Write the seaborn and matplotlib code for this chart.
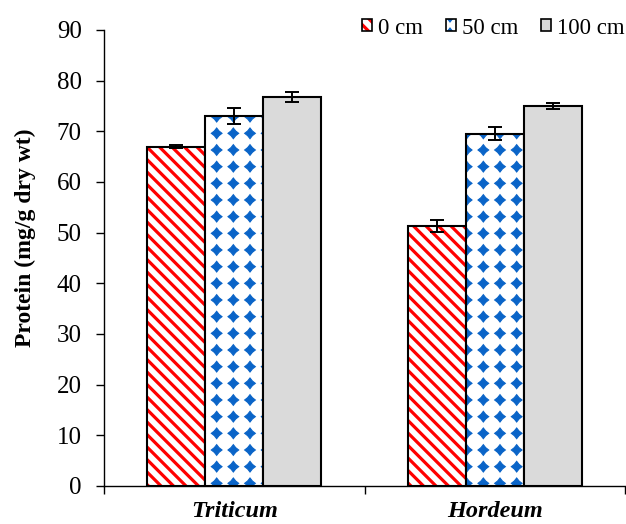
import numpy as np
import pandas as pd
import matplotlib
matplotlib.use("Agg")
import matplotlib.pyplot as plt
import matplotlib.hatch as mhatch
from matplotlib.path import Path
from matplotlib.patches import Patch
from matplotlib.colors import to_rgba
import seaborn as sns

# ---------------- data ----------------
species = ["Triticum", "Hordeum"]
depths = ["0 cm", "50 cm", "100 cm"]
protein_0cm = [67.0, 51.3]
protein_50cm = [73.0, 69.5]
protein_100cm = [76.7, 75.0]
err_0cm = [0.3, 1.2]
err_50cm = [1.6, 1.3]
err_100cm = [1.0, 0.5]
y_ticks = [0, 10, 20, 30, 40, 50, 60, 70, 80, 90]
y_label = "Protein (mg/g dry wt)"

# ---------------- custom hatch textures ----------------
class StripeHatch(mhatch.HatchPatternBase):
    per_tile = 8

    def __init__(self, hatch, density):
        self.n = hatch.count('\\') * self.per_tile
        self.num_vertices = (2 * self.n + 1) * 2 if self.n else 0

    def set_vertices_and_codes(self, vertices, codes):
        c = np.arange(2 * self.n + 1) / self.n
        vertices[0::2, 0] = c - 2.0
        vertices[0::2, 1] = 2.0
        vertices[1::2, 0] = c + 2.0
        vertices[1::2, 1] = -2.0
        codes[0::2] = Path.MOVETO
        codes[1::2] = Path.LINETO


class DiamondHatch(mhatch.HatchPatternBase):
    per_tile = 6
    size = 0.32

    def __init__(self, hatch, density):
        self.n = hatch.count('*') * self.per_tile
        self.num_vertices = (self.n + 1) ** 2 * 9 if self.n else 0

    def set_vertices_and_codes(self, vertices, codes):
        off = 1.0 / self.n
        r = self.size * off
        k = 0.44 * r
        shape = np.array([[0, r], [k, k], [r, 0], [k, -k], [0, -r],
                          [-k, -k], [-r, 0], [-k, k], [0, r]])
        scode = np.array([Path.MOVETO] + [Path.LINETO] * 7 + [Path.CLOSEPOLY],
                         dtype=Path.code_type)
        vparts, cparts = [], []
        for i in range(self.n + 1):
            for j in range(self.n + 1):
                vparts.append(shape + [j * off, i * off])
                cparts.append(scode)
        np.concatenate(vparts, out=vertices)
        np.concatenate(cparts, out=codes)


_drop = {"NorthWestHatch", "SouthEastHatch", "Stars"}
mhatch._hatch_types[:] = [t for t in mhatch._hatch_types
                          if t.__name__ not in _drop] + [StripeHatch, DiamondHatch]

# ---------------- styling ----------------
sns.set_theme(style="white")
plt.rcParams['font.family'] = ['Liberation Serif', 'DejaVu Serif']
plt.rcParams['hatch.linewidth'] = 2.3

face_colors = {"0 cm": "white", "50 cm": "white", "100 cm": "#dadada"}
hatches = {"0 cm": "\\", "50 cm": "*", "100 cm": ""}
hatch_colors = {"0 cm": "#ff0000", "50 cm": "#0a64c8", "100 cm": "black"}
hatch_lw = {"0 cm": 2.3, "50 cm": 0.8, "100 cm": 1.0}

df = pd.DataFrame({
    "species": species * 3,
    "depth": [d for d in depths for _ in species],
    "protein": protein_0cm + protein_50cm + protein_100cm,
    "err": err_0cm + err_50cm + err_100cm,
})

fig = plt.figure(figsize=(6.26, 5.24), dpi=100)
ax = fig.add_axes([104 / 626, 38 / 524, 521 / 626, 456 / 524])

sns.barplot(data=df, x="species", y="protein", hue="depth", order=species,
            hue_order=depths, palette=face_colors, width=0.667, errorbar=None,
            saturation=1, edgecolor="black", linewidth=1.5, legend=False, ax=ax)

for cont, d in zip(ax.containers, depths):
    sub = df[df["depth"] == d].set_index("species").loc[species]
    xs, ys = [], []
    for p in cont.patches:
        p.set_hatch(hatches[d])
        p._hatch_color = to_rgba(hatch_colors[d])
        if hasattr(p, "set_hatch_linewidth"):
            p.set_hatch_linewidth(hatch_lw[d])
        xs.append(p.get_x() + p.get_width() / 2)
        ys.append(p.get_height())
    ax.errorbar(xs, ys, yerr=sub["err"].values, fmt="none", ecolor="black",
                elinewidth=1.4, capsize=5, capthick=1.4, zorder=5)

ax.set_xlim(-0.5, 1.5)
ax.set_ylim(0, 90)
ax.set_yticks(y_ticks)
ax.set_yticklabels([str(v) for v in y_ticks])
ax.set_xticks([0, 1])
ax.set_xticklabels(species, fontstyle="italic", fontweight="bold")
ax.set_xticks([-0.5, 0.5, 1.5], minor=True)
ax.tick_params(axis="x", which="major", length=0, pad=11, labelsize=17.5,
               labelcolor="black")
ax.tick_params(axis="x", which="minor", length=6, width=1, direction="out",
               color="black", bottom=True)
ax.tick_params(axis="y", which="major", length=6, width=1, direction="out",
               color="black", left=True, pad=10, labelsize=18,
               labelcolor="black")
ax.set_xlabel("")
ax.set_ylabel(y_label, fontweight="bold", fontsize=17, labelpad=15,
              color="black")
ax.yaxis.label.set_y(0.545)

for s in ["top", "right"]:
    ax.spines[s].set_visible(False)
for s in ["left", "bottom"]:
    ax.spines[s].set_color("black")
    ax.spines[s].set_linewidth(1.0)

handles = []
for d in depths:
    h = Patch(facecolor=face_colors[d], edgecolor="black", linewidth=1.2,
              hatch=hatches[d])
    handles.append(h)

leg = fig.legend(handles, depths, loc="center right",
                 bbox_to_anchor=(0.998, 1 - 28 / 524),
                 bbox_transform=fig.transFigure, ncol=3, frameon=False,
                 fontsize=16.5, handlelength=0.45, handleheight=0.45,
                 handletextpad=0.25, columnspacing=1.0, borderpad=0,
                 borderaxespad=0)
for i, h in enumerate(leg.legend_handles):
    h._hatch_color = to_rgba(hatch_colors[depths[i]])
    if hasattr(h, "set_hatch_linewidth"):
        h.set_hatch_linewidth(hatch_lw[depths[i]])
for t in leg.get_texts():
    t.set_color("black")

fig.savefig("out.png", dpi=100)
